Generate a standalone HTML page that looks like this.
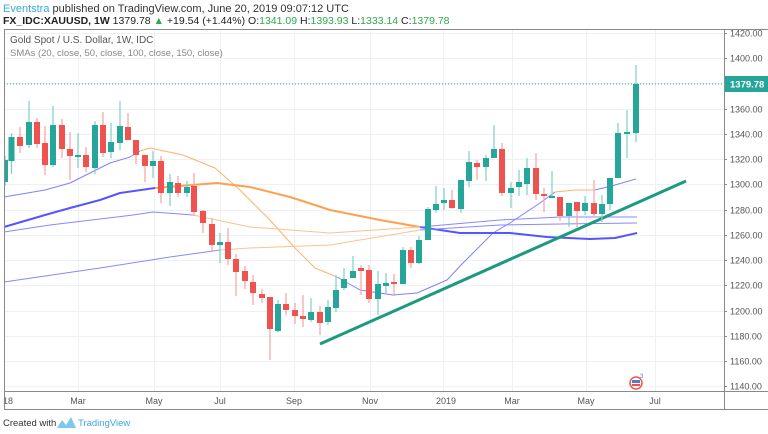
<!DOCTYPE html>
<html><head><meta charset="utf-8"><style>
body{margin:0;width:768px;height:434px;background:#fff;overflow:hidden;font-family:"Liberation Sans",sans-serif}
svg{position:absolute;left:0;top:0}
</style></head><body>
<svg width="768" height="434" viewBox="0 0 768 434" xmlns="http://www.w3.org/2000/svg" font-family="Liberation Sans, sans-serif">
<text x="3" y="12" font-size="11" fill="#333"><tspan fill="#3ba8dc">Eventstra</tspan> published on TradingView.com, June 20, 2019 09:07:12 UTC</text>
<text x="3" y="24" font-size="10.5" fill="#222"><tspan font-weight="bold">FX_IDC:XAUUSD, 1W</tspan>  1379.78 <tspan fill="#2fa84f">▲</tspan> +19.54 (+1.44%) O:<tspan fill="#2fa84f">1341.09</tspan> H:<tspan fill="#2fa84f">1393.93</tspan> L:<tspan fill="#2fa84f">1333.14</tspan> C:<tspan fill="#2fa84f">1379.78</tspan></text>
<g stroke="#edf1f5" stroke-width="1">
<line x1="4" y1="33.5" x2="724" y2="33.5"/><line x1="4" y1="58.5" x2="724" y2="58.5"/><line x1="4" y1="83.5" x2="724" y2="83.5"/><line x1="4" y1="109.5" x2="724" y2="109.5"/><line x1="4" y1="134.5" x2="724" y2="134.5"/><line x1="4" y1="159.5" x2="724" y2="159.5"/><line x1="4" y1="184.5" x2="724" y2="184.5"/><line x1="4" y1="210.5" x2="724" y2="210.5"/><line x1="4" y1="235.5" x2="724" y2="235.5"/><line x1="4" y1="260.5" x2="724" y2="260.5"/><line x1="4" y1="285.5" x2="724" y2="285.5"/><line x1="4" y1="311.5" x2="724" y2="311.5"/><line x1="4" y1="336.5" x2="724" y2="336.5"/><line x1="4" y1="361.5" x2="724" y2="361.5"/><line x1="4" y1="386.5" x2="724" y2="386.5"/>
<line x1="78.5" y1="29" x2="78.5" y2="391"/><line x1="154.5" y1="29" x2="154.5" y2="391"/><line x1="220.5" y1="29" x2="220.5" y2="391"/><line x1="294.5" y1="29" x2="294.5" y2="391"/><line x1="370.5" y1="29" x2="370.5" y2="391"/><line x1="443.5" y1="29" x2="443.5" y2="391"/><line x1="512.5" y1="29" x2="512.5" y2="391"/><line x1="586.5" y1="29" x2="586.5" y2="391"/><line x1="655.5" y1="29" x2="655.5" y2="391"/>
</g>
<g font-size="9" fill="#555">
<text x="730" y="36.5">1420.00</text><text x="730" y="61.5">1400.00</text><text x="730" y="112.5">1360.00</text><text x="730" y="137.5">1340.00</text><text x="730" y="162.5">1320.00</text><text x="730" y="187.5">1300.00</text><text x="730" y="213.5">1280.00</text><text x="730" y="238.5">1260.00</text><text x="730" y="263.5">1240.00</text><text x="730" y="288.5">1220.00</text><text x="730" y="314.5">1200.00</text><text x="730" y="339.5">1180.00</text><text x="730" y="364.5">1160.00</text><text x="730" y="389.5">1140.00</text>
</g>
<g stroke="#888"><line x1="724" y1="33.5" x2="727" y2="33.5"/><line x1="724" y1="58.5" x2="727" y2="58.5"/><line x1="724" y1="109.5" x2="727" y2="109.5"/><line x1="724" y1="134.5" x2="727" y2="134.5"/><line x1="724" y1="159.5" x2="727" y2="159.5"/><line x1="724" y1="184.5" x2="727" y2="184.5"/><line x1="724" y1="210.5" x2="727" y2="210.5"/><line x1="724" y1="235.5" x2="727" y2="235.5"/><line x1="724" y1="260.5" x2="727" y2="260.5"/><line x1="724" y1="285.5" x2="727" y2="285.5"/><line x1="724" y1="311.5" x2="727" y2="311.5"/><line x1="724" y1="336.5" x2="727" y2="336.5"/><line x1="724" y1="361.5" x2="727" y2="361.5"/><line x1="724" y1="386.5" x2="727" y2="386.5"/></g>
<g font-size="9" fill="#555" text-anchor="middle">
<text x="8" y="404">18</text><text x="78" y="404">Mar</text><text x="154" y="404">May</text><text x="220" y="404">Jul</text><text x="294" y="404">Sep</text><text x="370" y="404">Nov</text><text x="446" y="404">2019</text><text x="512" y="404">Mar</text><text x="586" y="404">May</text><text x="655" y="404">Jul</text>
</g>
<text x="10" y="43" font-size="10" fill="#555">Gold Spot / U.S. Dollar, 1W, IDC</text>
<text x="10" y="56" font-size="9.5" fill="#888">SMAs (20, close, 50, close, 100, close, 150, close)</text>
<line x1="4" y1="84" x2="724" y2="84" stroke="#26a69a" stroke-dasharray="1,2"/>
<rect x="724" y="76" width="44" height="16" fill="#26a69a"/>
<text x="730" y="87.5" font-size="9.5" fill="#fff" font-weight="bold">1379.78</text>
<g fill="none" stroke-linejoin="round">
<polyline stroke="#8080ff" stroke-width="1" points="4,197 45,190 70,183 90,173 110,163 130,157 140,151"/>
<polyline stroke="#ffb070" stroke-width="1" points="140,151 150,148 183,155 215,168 240,190 270,220 295,248 315,268 337,277"/>
<polyline stroke="#8080ff" stroke-width="1" points="337,277 360,290 393,295 417,293 447,280 463,263 493,233 510,223 540,203 555,192"/>
<polyline stroke="#ffb070" stroke-width="1" points="555,192 575,190 595,190"/>
<polyline stroke="#8080ff" stroke-width="1" points="595,190 615,185 636,179"/>
<polyline stroke="#5555ff" stroke-width="2" points="4,227 45,215 70,208 100,200 120,193 155,188"/>
<polyline stroke="#ffa050" stroke-width="2" points="155,188 180,186 217,183 250,187 290,197 330,210 380,220 420,227"/>
<polyline stroke="#5555ff" stroke-width="2" points="420,227 460,233 510,233 547,237 590,239 615,238 637,233"/>
<polyline stroke="#8888ff" stroke-width="1" points="4,232 50,225 133,215 153,212 193,215"/>
<polyline stroke="#ffc090" stroke-width="1" points="193,215 250,227 330,233 420,227"/>
<polyline stroke="#8888ff" stroke-width="1" points="420,227 500,220 560,217 637,217"/>
<polyline stroke="#8888ff" stroke-width="1" points="4,282 100,268 170,257 220,250"/>
<polyline stroke="#ffc090" stroke-width="1" points="220,250 250,248 330,245 420,230"/>
<polyline stroke="#8888ff" stroke-width="1" points="420,230 500,225 560,224 637,223"/>
</g>
<line x1="320" y1="344" x2="686" y2="181" stroke="#1c9a7e" stroke-width="3"/>
<path fill="none" stroke="#7fcfc6" stroke-width="1.2" d="M5 156V186M11.5 133V174M29 101V148M53 106V167M78 133V168M95 121V174M111 123V158M120 101V150M153 151V178M170 174V206M187 181V197M220 233V263M278 300V332M311 298V322M328 300V325M336 275V312M344 268V290M353 256V278M378 271V315M386 273V293M403 247V284M419 236V264M428 207V240M436 186V213M444 188V210M461 180V213M469 151V187M486 155V181M494 125V158M511 182V208M519 170V196M527 158V195M552 171V198M569 203V227M585 196V215M602 195V222M610 178V210M618 123V178M627 110V158M636 65V142"/>
<path fill="#26a69a" d="M5 160h3v22h-3zM8.5 137h6v24h-6zM26 122h6v23h-6zM50 125h6v40h-6zM75 155h6v2h-6zM92 125h6v43h-6zM108 142h6v10h-6zM117 126h6v17h-6zM150 161h6v5h-6zM167 182h6v11h-6zM184 187h6v6h-6zM217 242h6v3h-6zM275 304h6v27h-6zM308 312h6v8h-6zM325 307h6v15h-6zM333 290h6v18h-6zM341 279h6v9h-6zM350 271h6v7h-6zM375 284h6v15h-6zM383 283h6v3h-6zM400 250h6v34h-6zM416 240h6v23h-6zM425 209h6v31h-6zM433 204h6v6h-6zM441 200h6v3h-6zM458 180h6v29h-6zM466 162h6v19h-6zM483 158h6v9h-6zM491 149h6v9h-6zM508 188h6v5h-6zM516 182h6v5h-6zM524 168h6v16h-6zM549 196h6v2h-6zM566 203h6v13h-6zM582 203h6v8h-6zM599 204h6v10h-6zM607 178h6v26h-6zM615 133h6v45h-6zM624 132h6v2h-6zM633 84h6v49h-6z"/>
<path fill="none" stroke="#f5a3a1" stroke-width="1.2" d="M20 127V153M37 118V148M45 126V175M62 119V158M70 132V180M86 147V172M103 112V157M128 113V140M136 140V164M145 155V182M161 156V203M178 176V197M194 173V216M203 210V233M212 218V251M228 228V265M236 254V296M245 266V289M253 275V305M262 289V303M270 297V360M286 293V315M295 303V324M303 295V327M320 306V335M361 265V295M369 265V303M394 274V296M411 247V268M452 190V209M477 160V180M502 143V196M536 153V200M544 188V212M560 197V221M577 202V227M594 180V216"/>
<path fill="#ef5350" d="M17 137h6v9h-6zM34 122h6v22h-6zM42 143h6v22h-6zM59 125h6v24h-6zM67 149h6v7h-6zM83 155h6v12h-6zM100 125h6v28h-6zM125 127h6v13h-6zM133 140h6v15h-6zM142 155h6v11h-6zM158 161h6v32h-6zM175 183h6v10h-6zM191 186h6v26h-6zM200 211h6v12h-6zM209 224h6v21h-6zM225 242h6v17h-6zM233 259h6v13h-6zM242 271h6v10h-6zM250 282h6v11h-6zM259 294h6v4h-6zM267 297h6v32h-6zM283 304h6v6h-6zM292 310h6v6h-6zM300 316h6v3h-6zM317 312h6v11h-6zM358 268h6v3h-6zM366 270h6v29h-6zM391 282h6v2h-6zM408 250h6v13h-6zM449 200h6v8h-6zM474 163h6v4h-6zM499 149h6v44h-6zM533 168h6v26h-6zM541 194h6v2h-6zM557 197h6v19h-6zM574 202h6v9h-6zM591 203h6v11h-6z"/>
<g fill="none" stroke="#8a8a8a" stroke-width="1">
<line x1="4.5" y1="29" x2="4.5" y2="409"/><line x1="4" y1="29.5" x2="768" y2="29.5"/><line x1="724.5" y1="29" x2="724.5" y2="409"/><line x1="4" y1="391.5" x2="768" y2="391.5"/><line x1="4" y1="409.5" x2="768" y2="409.5"/>
</g>
<circle cx="636" cy="383" r="6" fill="#fff" stroke="#ef5350" stroke-width="1.5"/>
<rect x="632" y="380" width="8" height="3" fill="#5a78c8"/><rect x="632" y="384" width="8" height="2" fill="#ef5350"/>
<text x="640" y="378" font-size="6" fill="#5a78c8">3</text>
<text x="3" y="426" font-size="9.5" fill="#333">Created with</text>
<path d="M57 428 L62 420 L66 425 L71 417 L76 428 Z" fill="#7fc8ec"/>
<text x="78" y="426" font-size="9.5" fill="#3ba8dc">TradingView</text>
</svg>
</body></html>
